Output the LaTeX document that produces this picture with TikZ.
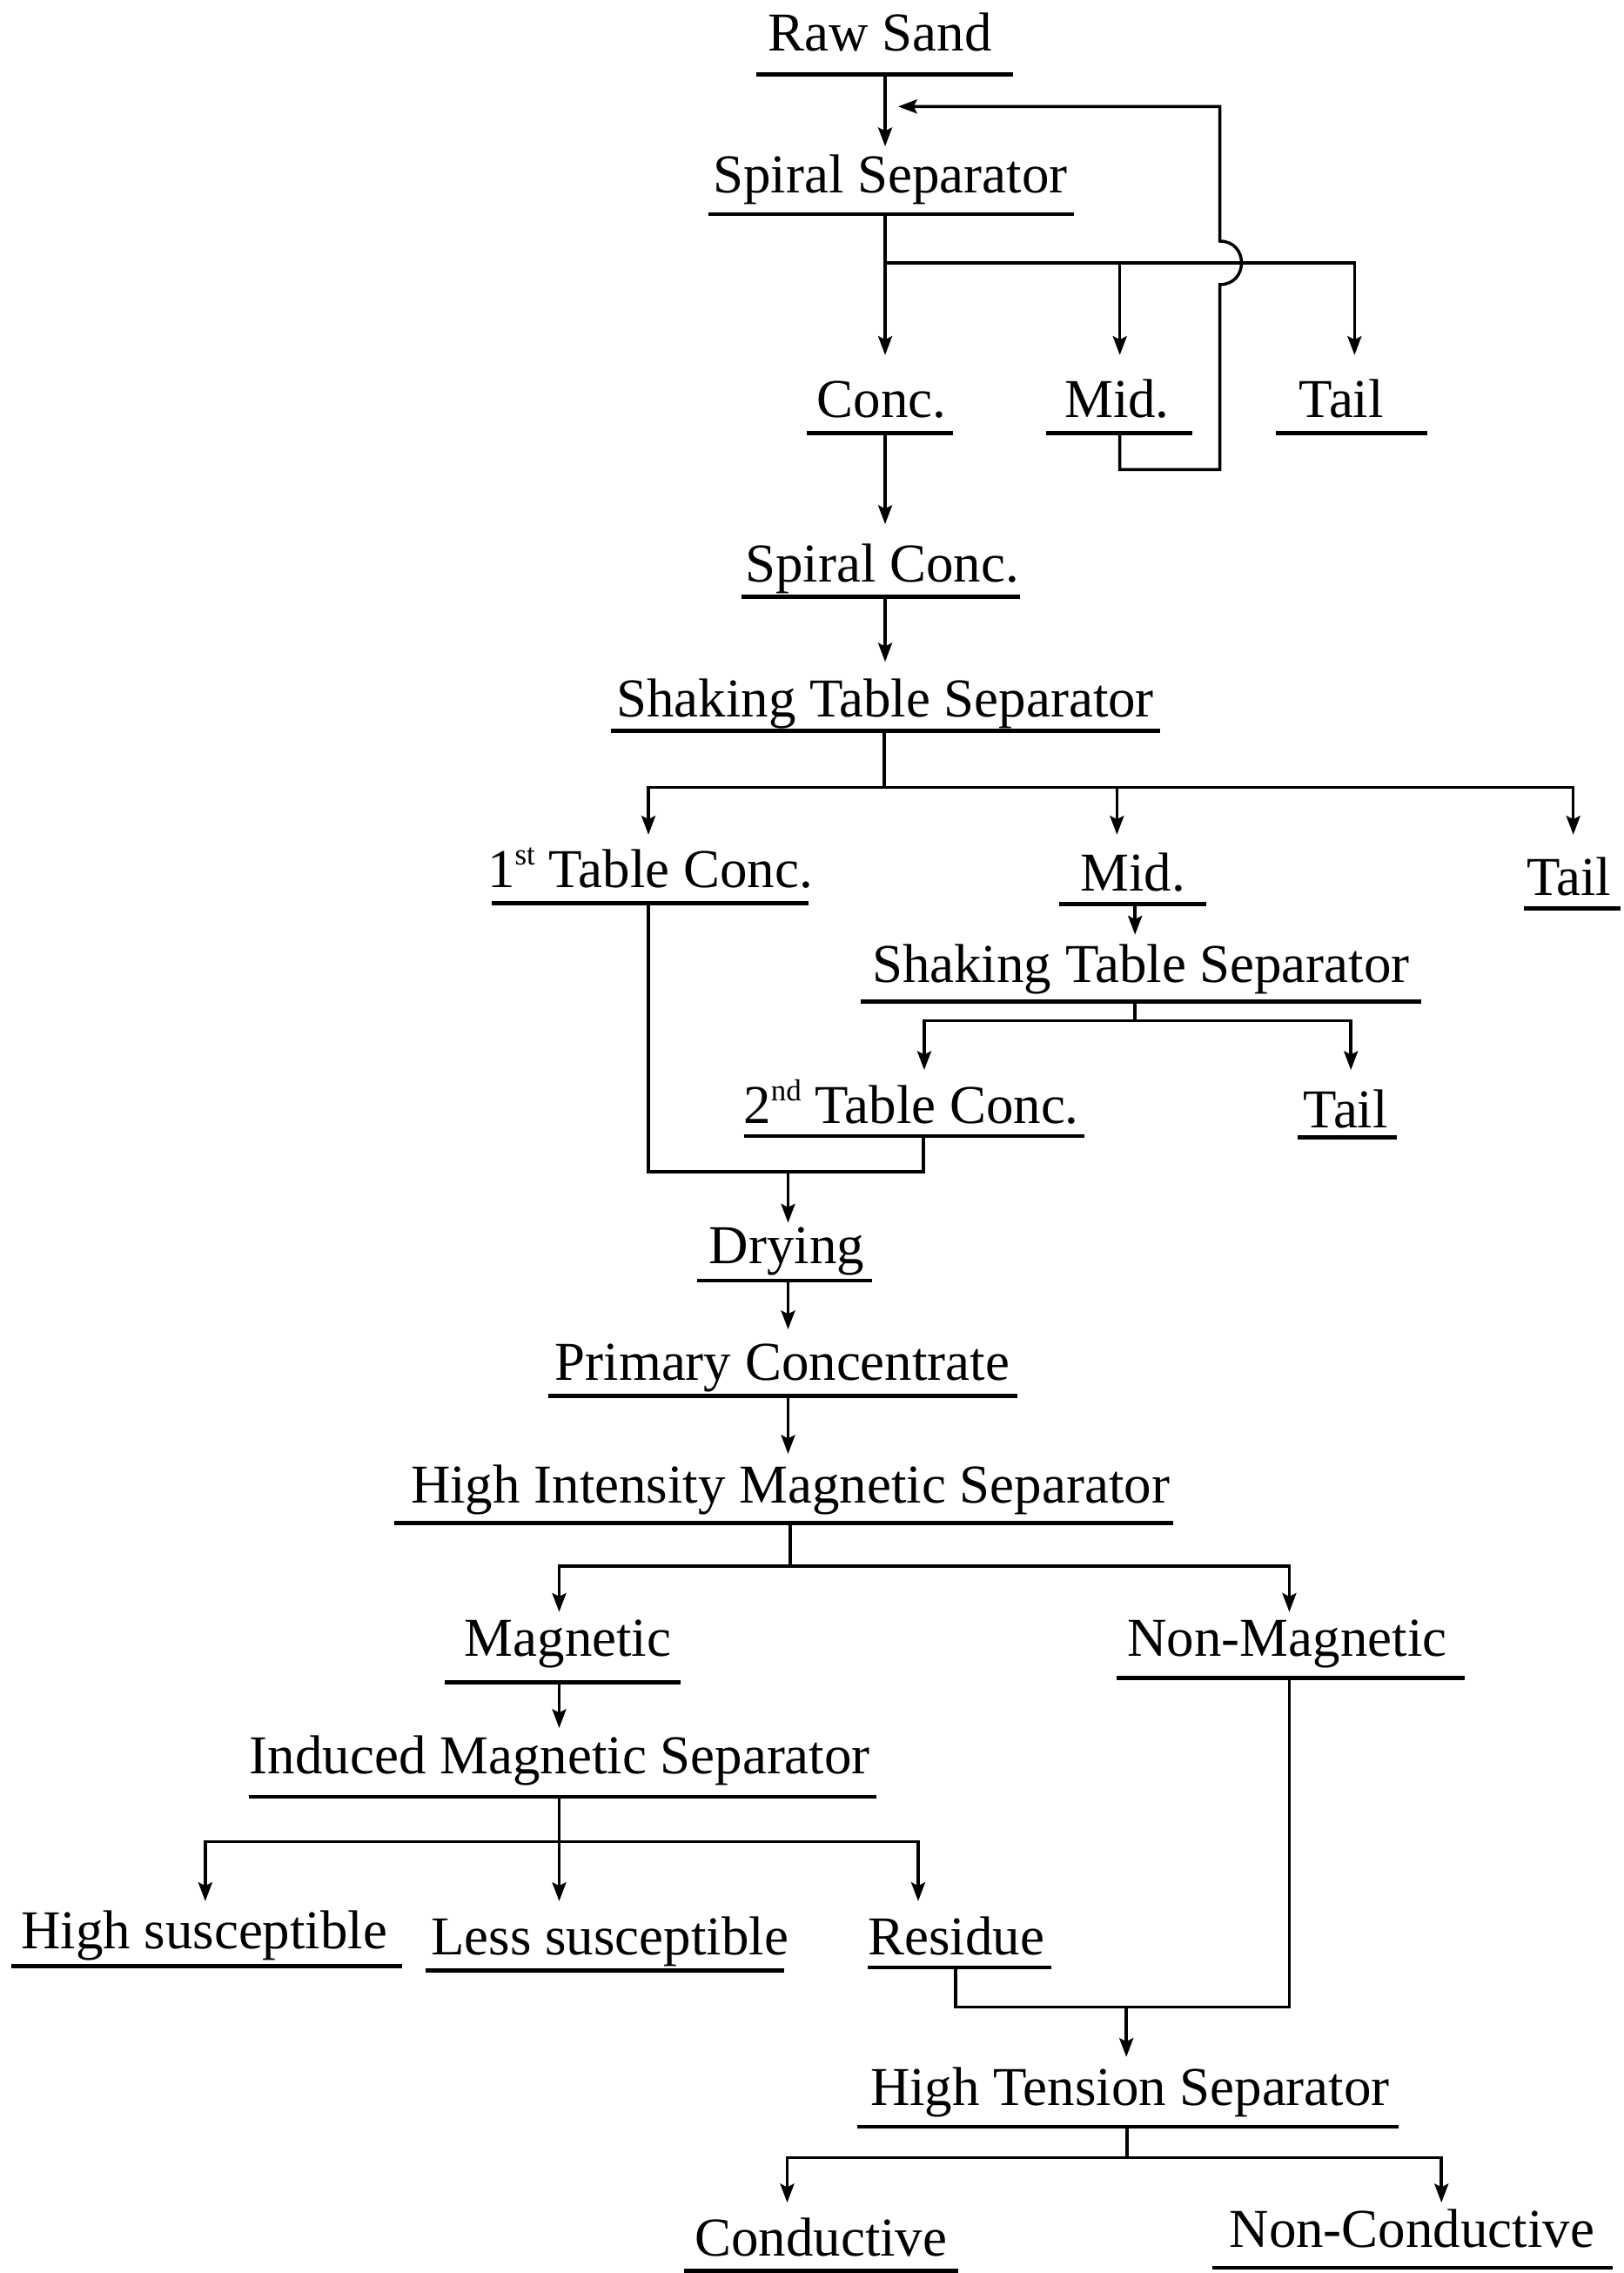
\documentclass[tikz,border=0pt]{standalone}
\usepackage{fontspec}
\setmainfont{Liberation Serif}
\usetikzlibrary{arrows.meta}
\newcommand\mklabel[7]{%
  \node[lbl] (#1) at (#2,#3) {#7};
  \draw[uline] (#4,#6) -- (#5,#6);}
\newcommand\supsc[1]{\raisebox{0.9ex}{\fontsize{10.5}{11}\selectfont #1}}
\begin{document}
\begin{tikzpicture}[x=0.5pt,y=-0.5pt,
  lbl/.style={inner sep=0pt,anchor=base,font=\fontsize{18.9}{22}\selectfont},
  uline/.style={line width=1.45pt},
  conn/.style={line width=1.05pt},
  arr/.style={conn,-{Stealth[length=6.5pt,width=4.8pt,inset=1.2pt]}}]
\useasboundingbox[fill=white] (0,0) rectangle (1121,1568.6);

% ---------- labels ----------
\mklabel{raw}{607.5}{35.3}{522}{699}{51.5}{Raw Sand}
\mklabel{spsep}{614.5}{133.3}{489}{741.5}{147.8}{Spiral Separator}
\mklabel{conc}{608.5}{288}{557}{658}{298.8}{Conc.}
\mklabel{mid1}{771}{288}{722}{823}{298.8}{Mid.}
\mklabel{tail1}{926}{288}{881}{985}{298.8}{Tail}
\mklabel{spconc}{609}{401.5}{512}{704}{412}{Spiral Conc.}
\mklabel{sts1}{611}{494.5}{422}{801}{504.5}{Shaking Table Separator}
\mklabel{tc1}{448.7}{612.6}{339.5}{558}{623.4}{1\supsc{st} Table Conc.}
\mklabel{mid2}{782}{615}{731}{832.6}{624}{Mid.}
\mklabel{tail2}{1083}{618}{1052}{1118.6}{627}{Tail}
\mklabel{sts2}{787.5}{678}{594}{981}{691.3}{Shaking Table Separator}
\mklabel{tc2}{629}{775}{513.4}{748.5}{784}{2\supsc{nd} Table Conc.}
\mklabel{tail3}{929}{778}{896}{964.5}{785}{Tail}
\mklabel{dry}{543}{872}{481}{602}{883.7}{Drying}
\mklabel{prim}{540}{952.6}{378.5}{702}{963.4}{Primary Concentrate}
\mklabel{hims}{545.5}{1037}{272}{810}{1051}{High Intensity Magnetic Separator}
\mklabel{mag}{392}{1143}{307}{470}{1161}{Magnetic}
\mklabel{nonmag}{888.5}{1143}{771}{1010.8}{1158}{Non-Magnetic}
\mklabel{ims}{386.5}{1224}{171.6}{605}{1240}{Induced Magnetic Separator}
\mklabel{hisus}{141}{1345}{7.7}{277.4}{1357}{High susceptible}
\mklabel{lesus}{421}{1349}{294}{541}{1360}{Less susceptible}
\mklabel{res}{660}{1349}{599}{726}{1357.7}{Residue}
\mklabel{hts}{780}{1453}{591.7}{965.5}{1467.7}{High Tension Separator}
\mklabel{cond}{566.7}{1557}{472}{661.7}{1567}{Conductive}
\mklabel{noncond}{974.6}{1551}{836.8}{1113}{1565}{Non-Conductive}

% ---------- connection points ----------
\coordinate (rawU) at (611,51.5);   \coordinate (spsepT) at (611,101);
\coordinate (fbTip) at (620,73.5);  \coordinate (fbTR) at (842,73.5);
\coordinate (hopTop) at (842,166.4); \coordinate (hopBot) at (842,196.4);
\coordinate (fbBR) at (842,324);    \coordinate (fbBL) at (773,324);
\coordinate (mid1U) at (773,298.8);
\coordinate (spsepU) at (611,147.8); \coordinate (bar1C) at (611,181.4);
\coordinate (concT) at (611,245);   \coordinate (mid1T) at (773,245);
\coordinate (tail1T) at (935,245);
\coordinate (concU) at (611,298.8); \coordinate (spconcT) at (611,361.7);
\coordinate (spconcU) at (611,412); \coordinate (sts1T) at (611,456.7);
\coordinate (sts1U) at (610.5,504.5); \coordinate (bar2C) at (610.5,543.5);
\coordinate (tc1T) at (447.6,576);  \coordinate (mid2T) at (771,576);
\coordinate (tail2T) at (1086,576);
\coordinate (mid2U) at (783.5,624); \coordinate (sts2T) at (783.5,645);
\coordinate (sts2U) at (783.5,691.3); \coordinate (bar3C) at (783.5,704.5);
\coordinate (tc2T) at (638,738.4);  \coordinate (tail3T) at (932.5,738.4);
\coordinate (tc1U) at (447.6,623.4); \coordinate (tc2U) at (637.5,784);
\coordinate (j1L) at (447.6,808.7); \coordinate (j1M) at (544,808.7);
\coordinate (dryT) at (544,843.8);
\coordinate (dryU) at (544,883.7);  \coordinate (primT) at (544,917.4);
\coordinate (primU) at (544,963.4); \coordinate (himsT) at (544,1003.3);
\coordinate (himsU) at (545.5,1051); \coordinate (bar4C) at (545.5,1080.7);
\coordinate (magT) at (386,1112.4); \coordinate (nonmagT) at (890,1112.4);
\coordinate (magU) at (386,1161);   \coordinate (imsT) at (386,1192.5);
\coordinate (imsU) at (386,1240);   \coordinate (bar5C) at (386,1271);
\coordinate (hisT) at (141.7,1312); \coordinate (lesT) at (386,1312);
\coordinate (resT) at (633.8,1312);
\coordinate (nonmagU) at (890,1158); \coordinate (j2R) at (890,1385);
\coordinate (resU) at (659.6,1357.7); \coordinate (j2M) at (777.5,1385);
\coordinate (htsT) at (777.5,1419.5);
\coordinate (htsU) at (778,1467.7); \coordinate (bar6C) at (778,1489);
\coordinate (condT) at (543.4,1520); \coordinate (noncondT) at (995,1520);

% ---------- connectors ----------
\draw[arr] (rawU) -- (spsepT);
\draw[arr] (mid1U) -- (fbBL) -- (fbBR) -- (hopBot)
   .. controls +(20,0) and +(20,0) .. (hopTop) -- (fbTR) -- (fbTip);
\draw[conn] (spsepU) -- (bar1C);
\draw[arr] (bar1C) -- (concT);
\draw[arr] (bar1C) -| (tail1T);
\draw[arr] (mid1T |- bar1C) -- (mid1T);
\draw[arr] (concU) -- (spconcT);
\draw[arr] (spconcU) -- (sts1T);
\draw[conn] (sts1U) -- (bar2C);
\draw[arr] (bar2C) -| (tc1T);
\draw[arr] (bar2C) -| (tail2T);
\draw[arr] (mid2T |- bar2C) -- (mid2T);
\draw[arr] (mid2U) -- (sts2T);
\draw[conn] (sts2U) -- (bar3C);
\draw[arr] (bar3C) -| (tc2T);
\draw[arr] (bar3C) -| (tail3T);
\draw[conn] (tc1U) -- (j1L) -| (tc2U);
\draw[arr] (j1M) -- (dryT);
\draw[arr] (dryU) -- (primT);
\draw[arr] (primU) -- (himsT);
\draw[conn] (himsU) -- (bar4C);
\draw[arr] (bar4C) -| (magT);
\draw[arr] (bar4C) -| (nonmagT);
\draw[arr] (magU) -- (imsT);
\draw[conn] (imsU) -- (bar5C);
\draw[arr] (bar5C) -| (hisT);
\draw[arr] (bar5C) -| (resT);
\draw[arr] (bar5C) -- (lesT);
\draw[conn] (nonmagU) -- (j2R) -| (resU);
\draw[arr] (j2M) -- (htsT);
\draw[conn] (htsU) -- (bar6C);
\draw[arr] (bar6C) -| (condT);
\draw[arr] (bar6C) -| (noncondT);
\end{tikzpicture}
\end{document}
